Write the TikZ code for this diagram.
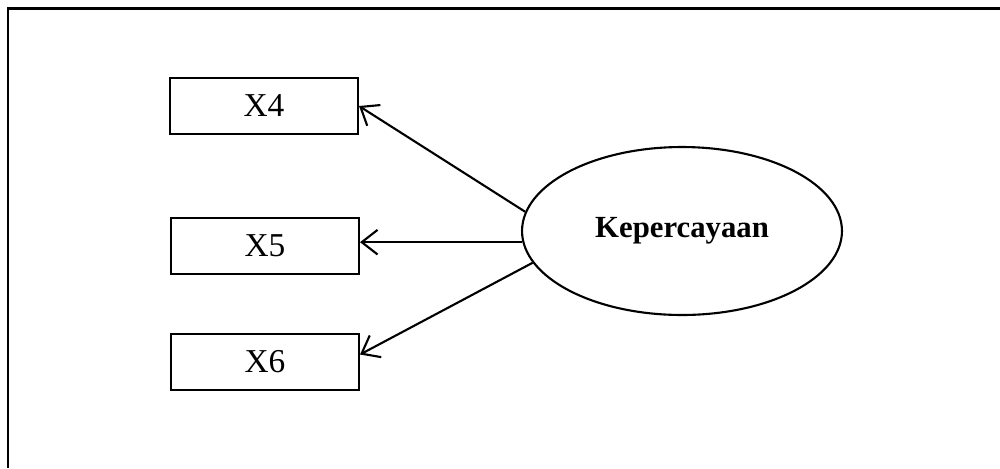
\documentclass[tikz,border=0pt]{standalone}
\usepackage{fontspec}
\setmainfont{Liberation Serif}
\usetikzlibrary{shapes.geometric,arrows.meta}
\begin{document}
\begin{tikzpicture}[x=0.02cm,y=-0.02cm,
  indikator/.style={draw,line width=1.2pt,minimum width=3.76cm,minimum height=1.12cm,inner sep=0pt,font=\fontsize{19}{22}\selectfont},
  laten/.style={draw,ellipse,line width=1.2pt,minimum width=6.4cm,minimum height=3.36cm,inner sep=0pt,font=\fontsize{17.5}{20}\selectfont\bfseries},
  panah/.style={->,line width=1.2pt,>={Straight Barb[length=9pt,width=14pt]}}]
\useasboundingbox(0,0)rectangle(1000,468);
%frame
\draw[line width=1.6pt](8,468)--(8,8.5)--(1000,8.5);
%indicators
\node[indikator](x4)at(264,106){X4};
\node[indikator](x5)at(265,246){X5};
\node[indikator](x6)at(265,362){X6};
%latent
\node[laten](k)at(682,231){Kepercayaan};
%loadings
\draw[panah](k.173)--(x4.east);
\draw[panah](k.184)--(k.184-|x5.east);
\draw[panah](k.192)--([yshift=0.15cm]x6.east);
\end{tikzpicture}
\end{document}
